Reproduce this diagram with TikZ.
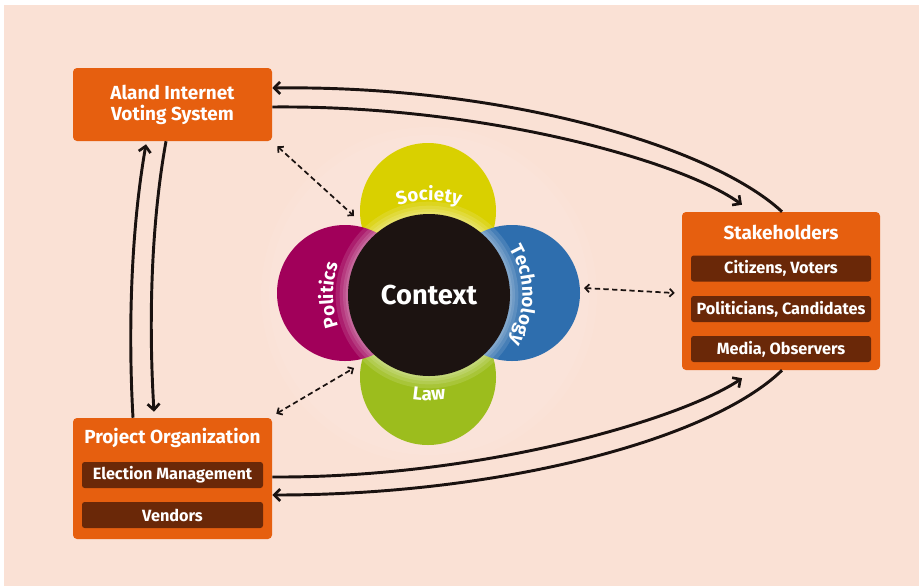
\documentclass[tikz,border=0pt]{standalone}
\usepackage{fontspec}
\setmainfont{Fira Sans}
\usetikzlibrary{arrows.meta,decorations.text}
\definecolor{peach}{HTML}{FAE1D5}
\definecolor{orangeb}{HTML}{E65F0F}
\definecolor{brownb}{HTML}{6A2808}
\definecolor{socc}{HTML}{D9D000}
\definecolor{lawc}{HTML}{9CBD1D}
\definecolor{polc}{HTML}{A1005A}
\definecolor{tecc}{HTML}{2E6EAE}
\definecolor{ctxc}{HTML}{1C1311}
\definecolor{lineb}{HTML}{1A1210}
\begin{document}
\begin{tikzpicture}[x=0.75pt,y=-0.75pt,
  box/.style={rectangle, rounded corners=3pt, fill=orangeb, inner sep=0pt},
  sub/.style={rectangle, rounded corners=2pt, fill=brownb, text=white,
    font=\bfseries\fontsize{12.2}{14}\selectfont, minimum width=135pt, minimum height=19.5pt, inner sep=0pt},
  ttl/.style={text=white, font=\bfseries\fontsize{14.2}{16}\selectfont, inner sep=0pt, align=center},
  link/.style={line width=2.2pt, draw=lineb, -{Straight Barb[length=4.5pt,width=9pt,line width=2pt]}},
  dlink/.style={line width=1.3pt, draw=lineb, dash pattern=on 4pt off 2.5pt,
    {Straight Barb[length=3pt,width=6pt]}-{Straight Barb[length=3pt,width=6pt]}},
  petal/.style={circle, minimum size=102pt, inner sep=0pt},
  ctxtext/.style={text=white, font=\bfseries\fontsize{20.5}{22}\selectfont}]
\useasboundingbox (0,0) rectangle (919,586);
\fill[white] (0,0) rectangle (919,586);
\fill[peach] (4,5) rectangle (919,586);

% soft halo
\fill[white, opacity=0.05] (429,295) circle[radius=126pt];
\fill[white, opacity=0.05] (429,295) circle[radius=120pt];

% boxes
\node[box, minimum width=149.25pt, minimum height=54.75pt] (aland) at (172.5,104.5) {};
\node[ttl] (alandt) at (172.5,105) {Aland Internet\\Voting System};

\node[box, minimum width=148.5pt, minimum height=118.5pt] (stk) at (781,291) {};
\node[ttl] (stkt) at (781,232) {Stakeholders};
\node[sub] (cit) at (781,268.5) {Citizens, Voters};
\node[sub] (polit) at (781,309) {Politicians, Candidates};
\node[sub] (med) at (781,349) {Media, Observers};

\node[box, minimum width=149.25pt, minimum height=90.75pt] (proj) at (172.5,478.5) {};
\node[ttl] (projt) at (172.5,438) {Project Organization};
\node[sub, minimum width=135.75pt] (elm) at (172.5,475) {Election Management};
\node[sub, minimum width=135.75pt] (ven) at (172.5,515) {Vendors};

% flower
\node[petal, fill=socc] (soc) at (428,211) {};
\node[petal, fill=lawc] (law) at (428,377) {};
\node[petal, fill=polc] (pol) at (345,293) {};
\node[petal, fill=tecc] (tec) at (512,293) {};
\foreach \r in {70,67,64.5,62.5} {\fill[white, opacity=0.12] (429,295) circle[radius=\r pt];}
\node[circle, minimum size=121.5pt, inner sep=0pt, fill=ctxc] (ctx) at (429,295) {};
\node[ctxtext] (ctxt) at (429,295) {Context};

\path[decorate, decoration={text along path, text color=white, text align=center,
  text={|\bfseries\fontsize{14}{14}\selectfont|Society}}]
  ([shift={(140:71pt)}]ctx.center) arc[start angle=140, end angle=40, radius=71pt];
\path[decorate, decoration={text along path, text color=white, text align=center,
  text={|\bfseries\fontsize{14}{14}\selectfont|Technology}}]
  ([shift={(65:70pt)}]ctx.center) arc[start angle=65, end angle=-65, radius=70pt];
\path[decorate, decoration={text along path, text color=white, text align=center,
  text={|\bfseries\fontsize{14}{14}\selectfont|Politics}}]
  ([shift={(235:72pt)}]ctx.center) arc[start angle=235, end angle=125, radius=72pt];
\path[decorate, decoration={text along path, text color=white, text align=center,
  text={|\bfseries\fontsize{14}{14}\selectfont|Law}}]
  ([shift={(235:79pt)}]ctx.center) arc[start angle=235, end angle=305, radius=79pt];

% solid connectors
\draw[link] ([shift={(1,0)}]stk.north) .. controls (710,145) and (500,85) .. ([shift={(0,-16.5)}]aland.east);
\draw[link] ([shift={(0,2.5)}]aland.east) .. controls (480,105) and (680,160) .. ([shift={(-39,-7)}]stk.north);
\draw[link] ([shift={(0,-1.5)}]proj.east) .. controls (480,478) and (680,420) .. ([shift={(-39,8)}]stk.south);
\draw[link] ([shift={(1,0)}]stk.south) .. controls (710,440) and (500,495) .. ([shift={(0,16.5)}]proj.east);
\draw[link] ([shift={(-39.5,0)}]proj.north) .. controls (128,330) and (131,230) .. ([shift={(-26.5,3)}]aland.south);
\draw[link] ([shift={(-6.5,0)}]aland.south) .. controls (150,230) and (149,330) .. ([shift={(-18.5,-6)}]proj.north);

% dashed connectors
\draw[dlink] ([shift={(5,5)}]aland.south east) -- ([shift={(-75,-79)}]ctx.center);
\draw[dlink] ([shift={(4,-4)}]proj.north east) -- ([shift={(-75,73)}]ctx.center);
\draw[dlink] ([shift={(72,-5)}]tec.center) -- ([shift={(-7,0)}]stk.west |- tec.center);
\end{tikzpicture}
\end{document}
